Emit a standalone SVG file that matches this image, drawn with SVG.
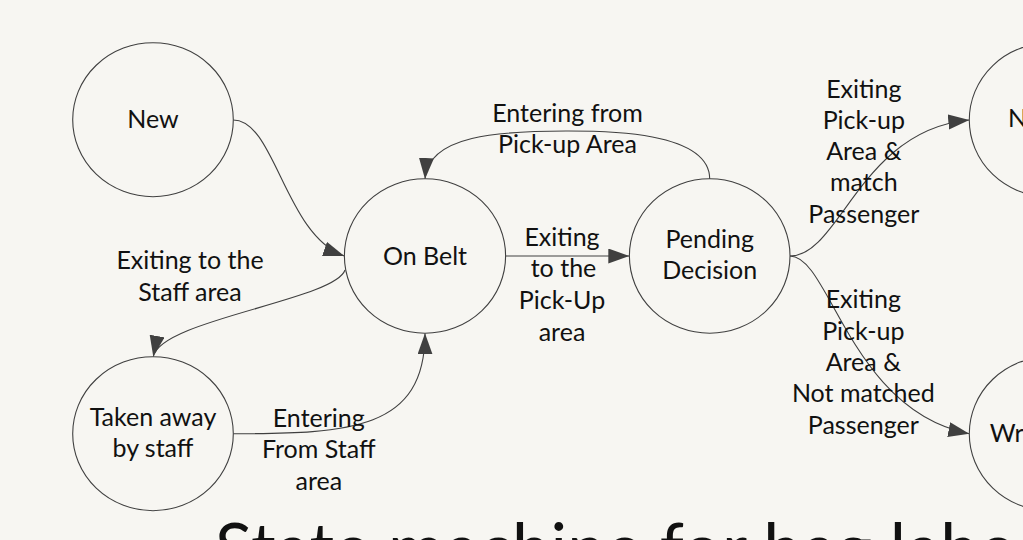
<svg xmlns="http://www.w3.org/2000/svg" width="1023" height="540" viewBox="0 0 1023 540">
<style>
.bg{fill:#f7f6f2}
.node ellipse{fill:#f7f6f2;stroke:#404040;stroke-width:1.1}
text{font-family:Lato,"Open Sans","DejaVu Sans",sans-serif;font-size:25px;fill:#111;text-anchor:middle}
.edge{fill:none;stroke:#404040;stroke-width:1.1;marker-end:url(#arr)}
.title{font-size:69px;text-anchor:start}
.st{text-anchor:start}
</style>
<defs>
<marker id="arr" markerUnits="userSpaceOnUse" markerWidth="22" markerHeight="16" refX="21" refY="7.5" orient="auto" viewBox="0 0 22 16">
<path d="M0,0 L21,7.5 L0,15 z" fill="#404040"/>
</marker>
</defs>
<rect class="bg" x="0" y="0" width="1023" height="540"/>
<g id="connectors">
<path id="e-new-onbelt" class="edge" d="M233.3,120 C275,120 285,235 344.3,256"/>
<path id="e-onbelt-pending" class="edge" d="M505.7,256 L629.3,256"/>
<path id="e-pending-onbelt" class="edge" d="M709.7,179 C709.7,130 600,131 566,131 C500,131 428,135 425,179"/>
<path id="e-onbelt-taken" class="edge" d="M345,270 C335,300 160,320 153.3,356.7"/>
<path id="e-taken-onbelt" class="edge" d="M233.3,433.7 C350,433.7 425,430 425,333.3"/>
<path id="e-pending-n" class="edge" d="M790,256 C840,256 860,130 969.3,120"/>
<path id="e-pending-wr" class="edge" d="M790,256 C830,256 850,410 969.3,433.7"/>
</g>
<g id="edge-labels">
<text x="567.5" y="121.7">Entering from</text>
<text x="567.5" y="152.7">Pick-up Area</text>
<text x="562" y="245.7">Exiting</text>
<text x="563.5" y="277.3">to the</text>
<text x="562" y="309.3">Pick-Up</text>
<text x="562" y="340.5">area</text>
<text x="190" y="269">Exiting to the</text>
<text x="190" y="300.7">Staff area</text>
<text x="318.8" y="426.7">Entering</text>
<text x="318.8" y="458.3">From Staff</text>
<text x="318.8" y="490">area</text>
<text x="863.8" y="97.7">Exiting</text>
<text x="863.8" y="128.8">Pick-up</text>
<text x="863.8" y="160">Area &amp;</text>
<text x="863.8" y="191.2">match</text>
<text x="863.8" y="222.5">Passenger</text>
<text x="863.3" y="308.3">Exiting</text>
<text x="863.3" y="339.5">Pick-up</text>
<text x="863.3" y="371">Area &amp;</text>
<text x="863.3" y="402.3">Not matched</text>
<text x="863.3" y="433.5">Passenger</text>
</g>
<g id="node-new" class="node">
<ellipse cx="153" cy="119.7" rx="80.3" ry="77"/>
<text x="153" y="128.3">New</text>
</g>
<g id="node-onbelt" class="node">
<ellipse cx="425" cy="256" rx="80.6" ry="77.2"/>
<text x="425" y="264.5">On Belt</text>
</g>
<g id="node-pending" class="node">
<ellipse cx="709.7" cy="256" rx="80.3" ry="77.2"/>
<text x="709.7" y="247.7">Pending</text>
<text x="709.7" y="279.3">Decision</text>
</g>
<g id="node-taken" class="node">
<ellipse cx="153" cy="433.7" rx="80.3" ry="77"/>
<text x="153" y="425.7">Taken away</text>
<text x="153" y="457.3">by staff</text>
</g>
<g id="node-n" class="node">
<ellipse cx="1049.6" cy="120" rx="80.3" ry="77"/>
<text class="st" x="1008" y="127.3">N</text>
</g>
<g id="node-wr" class="node">
<ellipse cx="1049.6" cy="433.7" rx="80.3" ry="77"/>
<text class="st" x="989.7" y="441.7">Wr</text>
</g>
<text class="title" x="215" y="573">State machine for bag labe</text>
</svg>
